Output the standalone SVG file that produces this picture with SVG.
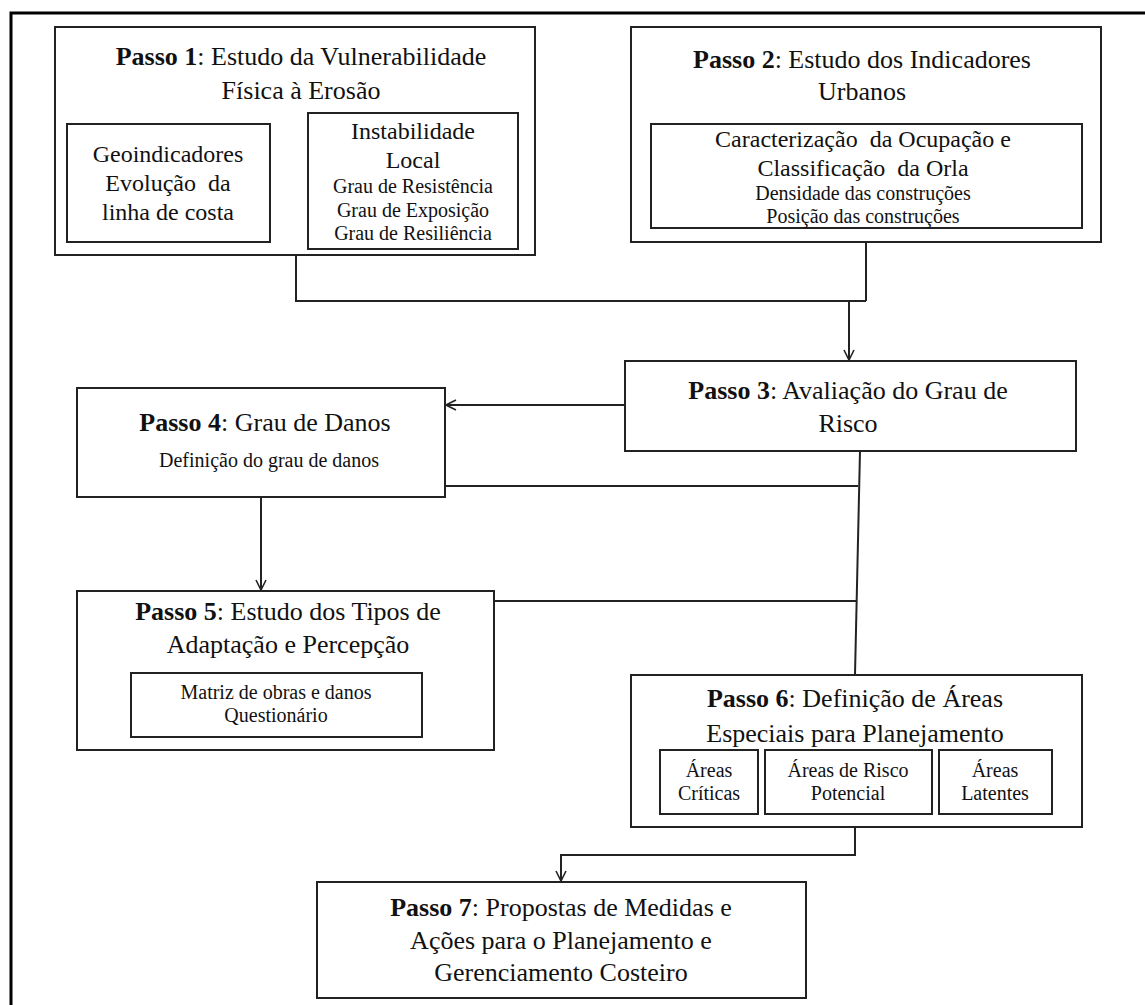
<svg xmlns="http://www.w3.org/2000/svg" width="1145" height="1005" viewBox="0 0 1145 1005">
<style>
text{font-family:"Liberation Serif","Times New Roman",serif;fill:#111;text-anchor:middle}
.t{font-size:26px}
.m{font-size:24px}
.s{font-size:20px}
.pre{white-space:pre}
b,.b{font-weight:bold}
.box{fill:#fff;stroke:#222;stroke-width:2}
.ln{fill:none;stroke:#222;stroke-width:2}
</style>
<defs>
<marker id="arr" markerWidth="12" markerHeight="12" refX="11" refY="6" orient="auto" markerUnits="userSpaceOnUse">
<path d="M1,1 L11,6 L1,11" fill="none" stroke="#222" stroke-width="1.6"/>
</marker>
</defs>
<rect width="1145" height="1005" fill="#fff"/>
<g id="frame">
<path d="M11,1005 L11,13 L1145,13" fill="none" stroke="#000" stroke-width="3"/>
</g>
<g id="connectors">
<path class="ln" d="M296,255 L296,301 L866,301"/>
<path class="ln" d="M866,242 L866,301"/>
<path class="ln" d="M849,301 L849,360" marker-end="url(#arr)"/>
<path class="ln" d="M625,405 L446,405" marker-end="url(#arr)"/>
<path class="ln" d="M860,451 L855,675"/>
<path class="ln" d="M445,486 L858,486"/>
<path class="ln" d="M494,601 L857,601"/>
<path class="ln" d="M261,497 L261,590" marker-end="url(#arr)"/>
<path class="ln" d="M855,827 L855,855 L561,855 L561,881" marker-end="url(#arr)"/>
</g>
<g id="passo1">
<rect class="box" x="55" y="27" width="480" height="228"/>
<text class="t" x="301" y="65"><tspan class="b">Passo 1</tspan>: Estudo da Vulnerabilidade</text>
<text class="t" x="301" y="99">Física à Erosão</text>
<g id="passo1-geo">
<rect class="box" x="67" y="124" width="203" height="118"/>
<text class="m" x="168" y="162">Geoindicadores</text>
<text class="m pre" x="168" y="191">Evolução  da</text>
<text class="m" x="168" y="220">linha de costa</text>
</g>
<g id="passo1-inst">
<rect class="box" x="308" y="113" width="210" height="136"/>
<text class="m" x="413" y="139">Instabilidade</text>
<text class="m" x="413" y="168">Local</text>
<text class="s" x="413" y="193">Grau de Resistência</text>
<text class="s" x="413" y="217">Grau de Exposição</text>
<text class="s" x="413" y="240">Grau de Resiliência</text>
</g>
</g>
<g id="passo2">
<rect class="box" x="631" y="27" width="470" height="215"/>
<text class="t" x="862" y="68"><tspan class="b">Passo 2</tspan>: Estudo dos Indicadores</text>
<text class="t" x="862" y="100">Urbanos</text>
<g id="passo2-carac">
<rect class="box" x="651" y="124" width="431" height="104"/>
<text class="m pre" x="863" y="147">Caracterização  da Ocupação e</text>
<text class="m pre" x="863" y="176">Classificação  da Orla</text>
<text class="s" x="863" y="200">Densidade das construções</text>
<text class="s" x="863" y="223">Posição das construções</text>
</g>
</g>
<g id="passo3">
<rect class="box" x="625" y="361" width="451" height="90"/>
<text class="t" x="848" y="399"><tspan class="b">Passo 3</tspan>: Avaliação do Grau de</text>
<text class="t" x="848" y="432">Risco</text>
</g>
<g id="passo4">
<rect class="box" x="77" y="388" width="368" height="109"/>
<text class="t" x="265" y="431"><tspan class="b">Passo 4</tspan>: Grau de Danos</text>
<text class="s" x="269" y="467">Definição do grau de danos</text>
</g>
<g id="passo5">
<rect class="box" x="77" y="591" width="417" height="159"/>
<text class="t" x="288" y="620"><tspan class="b">Passo 5</tspan>: Estudo dos Tipos de</text>
<text class="t" x="288" y="653">Adaptação e Percepção</text>
<g id="passo5-matriz">
<rect class="box" x="131" y="673" width="291" height="64"/>
<text class="s" x="276" y="699">Matriz de obras e danos</text>
<text class="s" x="276" y="722">Questionário</text>
</g>
</g>
<g id="passo6">
<rect class="box" x="631" y="675" width="451" height="152"/>
<text class="t" x="855" y="707"><tspan class="b">Passo 6</tspan>: Definição de Áreas</text>
<text class="t" x="855" y="742">Especiais para Planejamento</text>
<g id="passo6-criticas">
<rect class="box" x="660" y="750" width="98" height="64"/>
<text class="s" x="709" y="777">Áreas</text>
<text class="s" x="709" y="800">Críticas</text>
</g>
<g id="passo6-potencial">
<rect class="box" x="765" y="750" width="167" height="64"/>
<text class="s" x="848" y="777">Áreas de Risco</text>
<text class="s" x="848" y="800">Potencial</text>
</g>
<g id="passo6-latentes">
<rect class="box" x="939" y="750" width="113" height="64"/>
<text class="s" x="995" y="777">Áreas</text>
<text class="s" x="995" y="800">Latentes</text>
</g>
</g>
<g id="passo7">
<rect class="box" x="317" y="882" width="489" height="116"/>
<text class="t" x="561" y="916"><tspan class="b">Passo 7</tspan>: Propostas de Medidas e</text>
<text class="t" x="561" y="949">Ações para o Planejamento e</text>
<text class="t" x="561" y="981">Gerenciamento Costeiro</text>
</g>
</svg>
